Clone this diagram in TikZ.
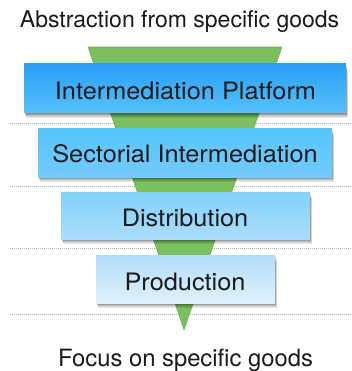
\documentclass[tikz,border=0pt]{standalone}
\usepackage{fontspec}
\setmainfont{TeX Gyre Heros}
\newfontfamily\boxfont{TeX Gyre Heros}[FakeStretch=1.055]
\definecolor{bOneT}{HTML}{2A9EF5}
\definecolor{bOneB}{HTML}{55C2FB}
\definecolor{bTwoT}{HTML}{55C6FB}
\definecolor{bTwoB}{HTML}{74CAFB}
\definecolor{bThreeT}{HTML}{82D1FB}
\definecolor{bThreeB}{HTML}{ABDDFA}
\definecolor{bFourT}{HTML}{B2DDF8}
\definecolor{bFourB}{HTML}{DFF2FC}
\definecolor{funnelgreen}{HTML}{7BBF5E}
\definecolor{funneledge}{HTML}{4E8A3A}
\definecolor{txt}{HTML}{1A1A1A}
\tikzset{
  sepline/.style={draw=black!30, line width=0.8pt, dash pattern=on 0.8pt off 1.2pt},
  funnel/.style={fill=funnelgreen, draw=funneledge, draw opacity=0.5, line width=0.6pt},
  lbl/.style={text=txt, font=\fontsize{23}{27}\selectfont, inner sep=0pt, anchor=base},
  boxlbl/.style={text=txt, font=\boxfont\fontsize{24}{28}\selectfont, inner sep=0pt, anchor=base},
  shadowlayer/.style={fill=black, opacity=0.09},
}
\newcommand{\mybox}[7]{%
  \foreach \k in {1,...,6}{%
    \fill[shadowlayer] (#1+0.5+0.2*\k,#2+\k) rectangle (#3+0.3*\k,#4+0.8*\k);}%
  \node[#7, inner sep=0pt, minimum width=#3-#1, minimum height=#4-#2, top color=#5, bottom color=#6, draw=none]
    at ({(#1+#3)/2},{(#2+#4)/2}) {};}
\begin{document}
\begin{tikzpicture}[x=1pt,y=-1pt]
\useasboundingbox (0,0) rectangle (352,371);
\fill[white] (0,0) rectangle (352,371);
% separators
\foreach \yy in {123,186,248,314}
  \draw[sepline] (10,\yy) -- (352,\yy);
% funnel
\path[funnel] (88,47) -- (282,47) -- (184,330) -- cycle;
% boxes
\mybox{24}{64}{346}{113}{bOneT}{bOneB}{name=b1}
\mybox{38}{129}{332}{177}{bTwoT}{bTwoB}{name=b2}
\mybox{61}{192}{310}{239}{bThreeT}{bThreeB}{name=b3}
\mybox{96}{255}{275}{303}{bFourT}{bFourB}{name=b4}
% labels
\node[lbl] (top) at (179.5,28) {Abstraction from specific goods};
\node[boxlbl] (l1) at (185.5,99.3) {Intermediation Platform};
\node[boxlbl] (l2) at (185,163) {Sectorial Intermediation};
\node[boxlbl] (l3) at (185,226) {Distribution};
\node[boxlbl] (l4) at (185,290) {Production};
\node[lbl, font=\fontsize{23.8}{28}\selectfont] (bot) at (185.5,366.5) {Focus on specific goods};
\end{tikzpicture}
\end{document}
